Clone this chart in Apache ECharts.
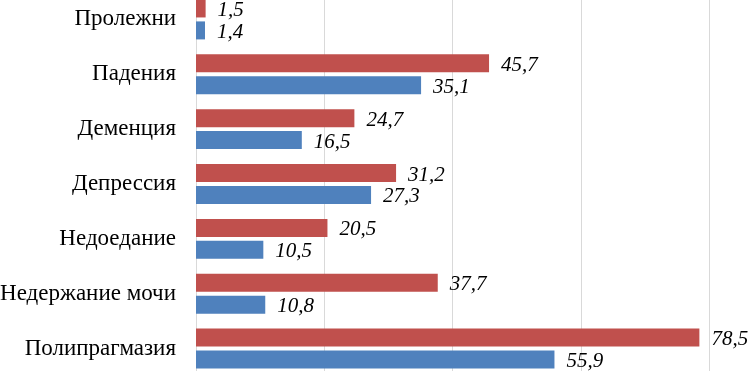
<!DOCTYPE html>
<html>
<head>
<meta charset="utf-8">
<script src="https://cdn.jsdelivr.net/npm/echarts@6/dist/echarts.min.js"></script>
<style>
  html, body { margin: 0; padding: 0; background: #fff; }
  #chart { width: 752px; height: 371px; }
</style>
</head>
<body>
<div id="chart"></div>
<script>
// categories listed top to bottom
const categories = ['Пролежни', 'Падения', 'Деменция', 'Депрессия', 'Недоедание', 'Недержание мочи', 'Полипрагмазия']
const redValues = [1.5, 45.7, 24.7, 31.2, 20.5, 37.7, 78.5]
const blueValues = [1.4, 35.1, 16.5, 27.3, 10.5, 10.8, 55.9]

const fmt = (p) => String(p.value).replace('.', ',')

const labelStyle = {
  show: true,
  position: 'right',
  distance: 12,
  formatter: fmt,
  color: '#000',
  fontFamily: '"Liberation Serif", "Times New Roman", serif',
  fontStyle: 'italic',
  fontSize: 21,
  offset: [0, 2]
}

const myChart = echarts.init(document.getElementById('chart'))
const option = {
  animation: false,
  grid: { left: 196, right: 43, top: -8, height: 384, containLabel: false, outerBoundsMode: 'none' },
  xAxis: {
    type: 'value',
    min: 0,
    max: 80,
    interval: 20,
    axisLabel: { show: false },
    axisLine: { show: false },
    axisTick: { show: false },
    splitLine: { show: true, lineStyle: { color: '#D9D9D9', width: 1 } }
  },
  yAxis: {
    type: 'category',
    inverse: true,
    data: categories,
    axisTick: { show: false },
    axisLine: { show: true, lineStyle: { color: '#D9D9D9', width: 1 } },
    axisLabel: {
      color: '#000',
      fontFamily: '"Liberation Serif", "Times New Roman", serif',
      fontSize: 23,
      margin: 20,
      padding: [5, 0, 0, 0]
    }
  },
  series: [
    {
      type: 'bar',
      data: redValues,
      barWidth: 18,
      barGap: '22%',
      itemStyle: { color: '#C0504D' },
      label: labelStyle
    },
    {
      type: 'bar',
      data: blueValues,
      barWidth: 18,
      barGap: '22%',
      itemStyle: { color: '#4F81BD' },
      label: labelStyle
    }
  ]
}
myChart.setOption(option)
</script>
</body>
</html>
